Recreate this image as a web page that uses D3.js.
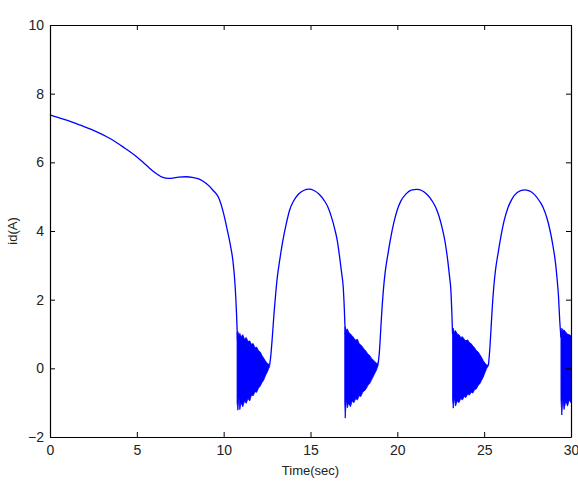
<!DOCTYPE html>
<html>
<head>
<meta charset="utf-8">
<script src="https://cdn.jsdelivr.net/npm/d3@7"></script>
<style>
  body { margin: 0; background: #fff; }
  svg { display: block; font-family: "Liberation Sans", Arial, sans-serif; }
</style>
</head>
<body>
<svg id="chart"></svg>
<script>
// smooth parts of id(A) as [time, value]
const decay = [
  [0, 7.38], [0.5, 7.3], [1.0, 7.22], [1.7, 7.09], [2.5, 6.93], [3.43, 6.7], [4.2, 6.45],
  [4.97, 6.17], [5.4, 5.98], [5.73, 5.83], [6.1, 5.68], [6.5, 5.56], [6.8, 5.53], [7.08, 5.54],
  [7.4, 5.57], [7.85, 5.58], [8.2, 5.56], [8.6, 5.51], [9.0, 5.38], [9.4, 5.18], [9.7, 4.98],
  [9.95, 4.6], [10.2, 4.05], [10.4, 3.55], [10.54, 3.1], [10.66, 2.4], [10.74, 1.6], [10.8, 0.8]
]
const hump1 = [
  [12.65, 0.1], [12.72, 0.4], [12.8, 0.9], [12.9, 1.6], [13.0, 2.2], [13.1, 2.7], [13.23, 3.16],
  [13.4, 3.7], [13.6, 4.2], [13.8, 4.61], [14.0, 4.85], [14.3, 5.07], [14.6, 5.18], [14.92, 5.22],
  [15.2, 5.18], [15.5, 5.07], [15.8, 4.88], [16.0, 4.7], [16.2, 4.42], [16.4, 4.05], [16.55, 3.7],
  [16.7, 3.15], [16.8, 2.75], [16.88, 2.4], [16.95, 1.7], [17.0, 1.0]
]
const hump2 = [
  [18.9, 0.15], [18.97, 0.5], [19.03, 1.0], [19.1, 1.6], [19.2, 2.3], [19.3, 2.8], [19.45, 3.3],
  [19.6, 3.75], [19.8, 4.25], [20.0, 4.62], [20.2, 4.87], [20.5, 5.08], [20.8, 5.19], [21.13, 5.21],
  [21.4, 5.18], [21.7, 5.07], [22.0, 4.88], [22.2, 4.7], [22.4, 4.43], [22.6, 4.05], [22.75, 3.68],
  [22.9, 3.15], [23.0, 2.7], [23.08, 2.3], [23.14, 1.6], [23.18, 1.0]
]
const hump3 = [
  [25.25, 0.1], [25.33, 0.6], [25.4, 1.2], [25.47, 1.8], [25.55, 2.35], [25.65, 2.85], [25.8, 3.35],
  [25.95, 3.8], [26.15, 4.3], [26.35, 4.65], [26.6, 4.93], [26.9, 5.12], [27.3, 5.2], [27.6, 5.17],
  [27.9, 5.06], [28.2, 4.86], [28.4, 4.68], [28.6, 4.4], [28.8, 4.0], [28.95, 3.6], [29.1, 3.1],
  [29.2, 2.6], [29.28, 2.1], [29.35, 1.4], [29.42, 0.9]
]

// chattering bursts as [time, low, high] envelopes
const burst1 = [
  [10.77, -1.0, 1.05], [10.82, -1.22, 1.07], [10.88, -0.85, 0.95], [10.93, -1.2, 1.02], [11.0, -1.0, 0.92],
  [11.1, -1.12, 0.98], [11.2, -0.95, 0.85], [11.3, -1.02, 0.9], [11.4, -0.88, 0.78], [11.5, -0.95, 0.8],
  [11.6, -0.78, 0.7], [11.7, -0.8, 0.72], [11.8, -0.68, 0.6], [11.9, -0.7, 0.62], [12.0, -0.58, 0.52],
  [12.1, -0.52, 0.48], [12.2, -0.42, 0.38], [12.3, -0.35, 0.3], [12.4, -0.22, 0.22], [12.5, -0.12, 0.15],
  [12.6, 0.0, 0.12], [12.65, 0.05, 0.1]
]
const burst2 = [
  [16.97, -1.0, 1.0], [17.0, -1.45, 1.21], [17.06, -0.9, 1.1], [17.12, -1.15, 1.15], [17.2, -1.0, 1.05],
  [17.3, -1.12, 1.0], [17.4, -0.95, 0.95], [17.5, -1.0, 0.88], [17.6, -0.88, 0.82], [17.7, -0.92, 0.85],
  [17.8, -0.8, 0.72], [17.9, -0.82, 0.68], [18.0, -0.7, 0.62], [18.1, -0.66, 0.55], [18.2, -0.6, 0.5],
  [18.3, -0.5, 0.42], [18.4, -0.45, 0.38], [18.5, -0.35, 0.3], [18.6, -0.25, 0.25], [18.7, -0.15, 0.2],
  [18.8, -0.05, 0.15], [18.9, 0.1, 0.15]
]
const burst3 = [
  [23.18, -0.9, 1.0], [23.22, -1.16, 1.17], [23.28, -0.85, 1.05], [23.35, -1.1, 1.1], [23.45, -0.95, 1.0],
  [23.55, -1.0, 0.98], [23.65, -0.88, 0.9], [23.75, -0.92, 0.92], [23.85, -0.82, 0.85], [23.95, -0.85, 0.8],
  [24.05, -0.75, 0.83], [24.15, -0.78, 0.75], [24.25, -0.7, 0.72], [24.35, -0.72, 0.65], [24.45, -0.62, 0.6],
  [24.55, -0.6, 0.52], [24.65, -0.5, 0.48], [24.75, -0.45, 0.4], [24.85, -0.35, 0.32], [24.95, -0.25, 0.22],
  [25.05, -0.12, 0.15], [25.15, 0.0, 0.1], [25.25, 0.08, 0.1]
]
const burst4 = [
  [29.42, -0.9, 1.0], [29.47, -1.36, 1.17], [29.53, -0.9, 1.1], [29.6, -1.2, 1.12], [29.7, -0.95, 1.05],
  [29.8, -1.1, 1.0], [29.9, -0.92, 0.98], [30.0, -1.0, 0.95]
]

const xTicks = [0, 5, 10, 15, 20, 25, 30]
const yTicks = [-2, 0, 2, 4, 6, 8, 10]

const margin = { top: 25, right: 7, bottom: 50, left: 50 }
const W = 578, H = 487
const width = W - margin.left - margin.right
const height = H - margin.top - margin.bottom

const svg = d3.select('#chart').attr('width', W).attr('height', H)
const chart = svg.append('g').attr('transform', `translate(${margin.left}, ${margin.top})`)

const x = d3.scaleLinear().domain([0, 30]).range([0, width])
const y = d3.scaleLinear().domain([-2, 10]).range([height, 0])

// noise bands
const band = d3.area()
  .x(d => x(d[0]))
  .y0(d => y(d[1]))
  .y1(d => y(d[2]))

chart.selectAll('.burst')
  .data([burst1, burst2, burst3, burst4])
  .join('path')
    .attr('class', 'burst')
    .attr('d', band)
    .attr('fill', '#0000ff')
    .attr('stroke', '#0000ff')
    .attr('stroke-width', 0.8)

const line = d3.line()
  .curve(d3.curveMonotoneX)
  .x(d => x(d[0]))
  .y(d => y(d[1]))

chart.selectAll('.seg')
  .data([decay, hump1, hump2, hump3])
  .join('path')
    .attr('class', 'seg')
    .attr('d', line)
    .attr('fill', 'none')
    .attr('stroke', '#0000ff')
    .attr('stroke-width', 1.3)

// axes, ticks pointing inward on all four sides
const styleAxis = g => {
  g.select('.domain').attr('stroke', '#000').attr('stroke-width', 1.2)
  g.selectAll('.tick line').attr('stroke', '#000')
  g.selectAll('.tick text').attr('fill', '#222').style('font-size', '14px')
    .style('font-family', '"Liberation Sans", Arial, sans-serif')
}

chart.append('g')
  .attr('transform', `translate(0, ${height})`)
  .call(d3.axisBottom(x).tickValues(xTicks).tickSizeInner(-5).tickSizeOuter(0).tickPadding(8))
  .call(styleAxis)

chart.append('g')
  .call(d3.axisTop(x).tickValues(xTicks).tickSizeInner(-5).tickSizeOuter(0).tickFormat(''))
  .call(styleAxis)

chart.append('g')
  .call(d3.axisLeft(y).tickValues(yTicks).tickSizeInner(-5).tickSizeOuter(0).tickPadding(6))
  .call(styleAxis)

chart.append('g')
  .attr('transform', `translate(${width}, 0)`)
  .call(d3.axisRight(y).tickValues(yTicks).tickSizeInner(-5).tickSizeOuter(0).tickFormat(''))
  .call(styleAxis)

svg.append('text')
  .attr('x', margin.left + width / 2)
  .attr('y', 475)
  .attr('text-anchor', 'middle')
  .attr('fill', '#222')
  .style('font-size', '13px')
  .text('Time(sec)')

svg.append('text')
  .attr('transform', `translate(17, ${margin.top + height / 2}) rotate(-90)`)
  .attr('text-anchor', 'middle')
  .attr('fill', '#222')
  .style('font-size', '13px')
  .text('id(A)')
</script>
</body>
</html>
